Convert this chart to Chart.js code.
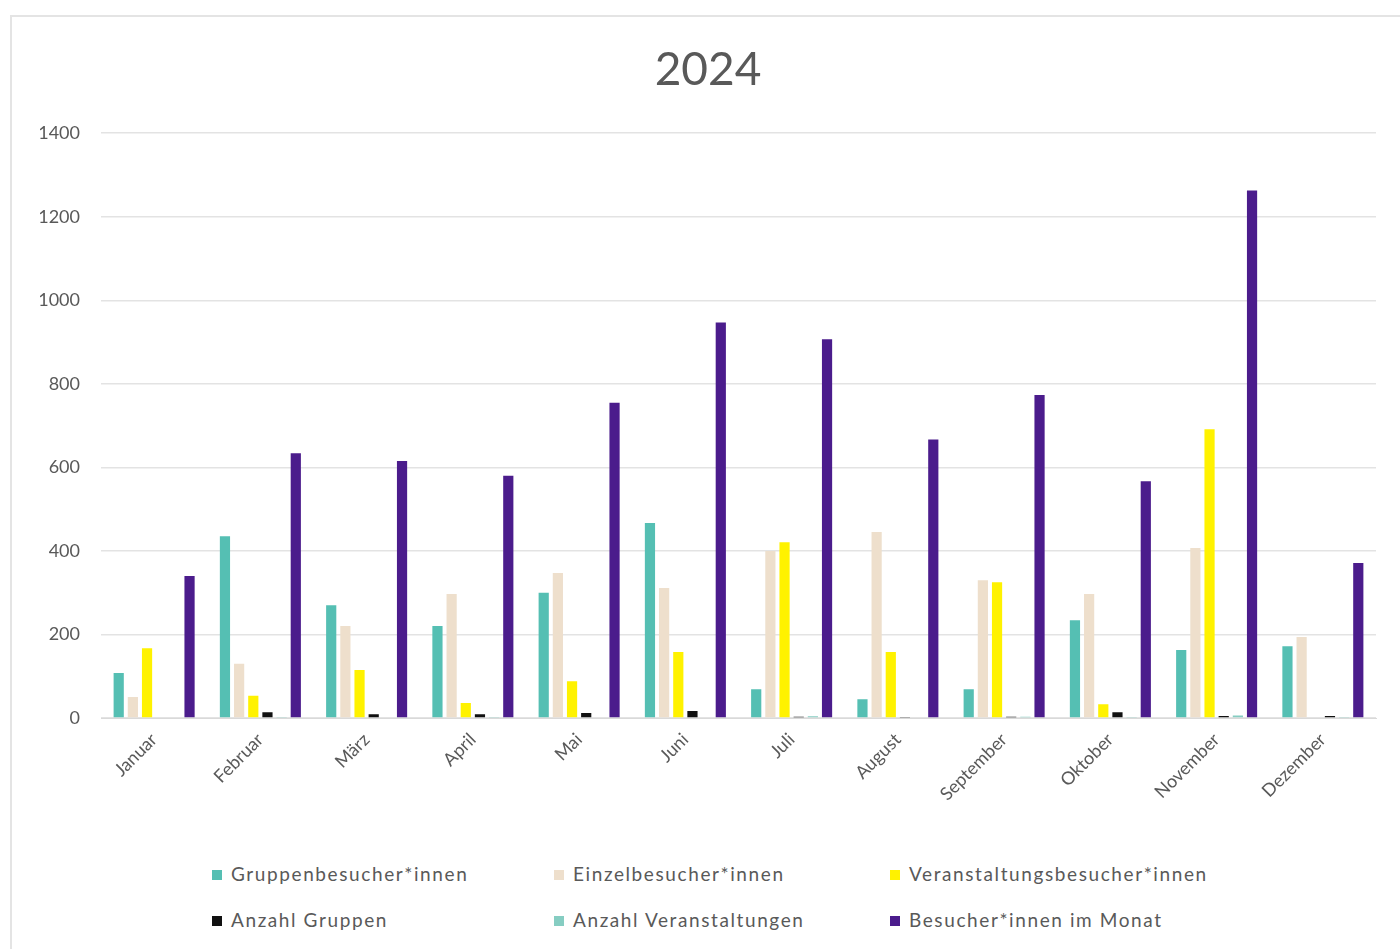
<!DOCTYPE html>
<html lang="de">
<head>
<meta charset="utf-8">
<title>2024</title>
<script src="https://cdn.jsdelivr.net/npm/chart.js@4.4.1/dist/chart.umd.min.js"></script>
<style>
    html, body {
        margin: 0;
        padding: 0;
        background: #fff;
    }
    #frame {
        position: absolute;
        left: 10px;
        top: 15px;
        width: 1400px;
        height: 940px;
        border-top: 2px solid #e4e4e4;
        border-left: 2px solid #e4e4e4;
        box-sizing: border-box;
    }
    #wrap {
        position: absolute;
        left: 0;
        top: 0;
        width: 1400px;
        height: 850px;
    }
    #legend {
        position: absolute;
        left: 212px;
        top: 862px;
        display: grid;
        grid-template-columns: 342px 336px 340px;
        row-gap: 23px;
        font-family: Lato, 'Open Sans', sans-serif;
        font-size: 19px;
        letter-spacing: 1.6px;
        color: #595959;
    }
    #legend span.box {
        display: inline-block;
        width: 10px;
        height: 10px;
        margin-right: 9px;
        vertical-align: 1px;
    }
</style>
</head>
<body>
<div id="frame"></div>
<div id="wrap"><canvas id="chart"></canvas></div>
<div id="legend"></div>
<script>
// Kategorien und Werte
const months = ['Januar', 'Februar', 'März', 'April', 'Mai', 'Juni', 'Juli', 'August', 'September', 'Oktober', 'November', 'Dezember'];
const gruppenbesucher = [108, 435, 270, 220, 300, 467, 69, 45, 69, 234, 163, 172];
const einzelbesucher = [50, 130, 220, 297, 347, 311, 400, 445, 330, 297, 407, 194];
const veranstaltungsbesucher = [167, 53, 115, 36, 88, 158, 421, 158, 325, 33, 691, 0];
const anzahlGruppen = [2, 14, 9, 9, 12, 17, 3, 1, 3, 14, 5, 5];
const anzahlVeranstaltungen = [2, 1, 2, 1, 2, 2, 4, 2, 3, 1, 6, 1];
const besucherMonat = [340, 634, 615, 580, 755, 947, 907, 667, 773, 567, 1263, 371];
const yTicks = [0, 200, 400, 600, 800, 1000, 1200, 1400];

const seriesNames = ['Gruppenbesucher*innen', 'Einzelbesucher*innen', 'Veranstaltungsbesucher*innen', 'Anzahl Gruppen', 'Anzahl Veranstaltungen', 'Besucher*innen im Monat'];
const seriesData = [gruppenbesucher, einzelbesucher, veranstaltungsbesucher, anzahlGruppen, anzahlVeranstaltungen, besucherMonat];
const seriesColors = ['#55BFB3', '#EEDFCC', '#FFF200', '#111111', '#86CDC2', '#4B1C8C'];

const fontFamily = "Lato, 'Open Sans', sans-serif";

const ctx = document.getElementById('chart');
const chart = new Chart(ctx, {
    type: 'bar',
    data: {
        labels: months,
        datasets: seriesNames.map((name, i) => ({
            label: name,
            data: seriesData[i],
            backgroundColor: seriesColors[i],
            borderWidth: 0,
            categoryPercentage: 0.8,
            barPercentage: 0.72
        }))
    },
    options: {
        responsive: true,
        maintainAspectRatio: false,
        animation: false,
        layout: {
            padding: { left: 40, right: 24, top: 0, bottom: 0 }
        },
        plugins: {
            legend: { display: false },
            tooltip: { enabled: false },
            title: {
                display: true,
                text: '2024',
                color: '#595959',
                font: { family: fontFamily, size: 46, weight: 'normal' },
                padding: { top: 43, bottom: 35 }
            }
        },
        scales: {
            x: {
                grid: { display: false },
                border: { display: true, color: '#d9d9d9' },
                ticks: {
                    color: '#595959',
                    font: { family: fontFamily, size: 18 },
                    maxRotation: 45,
                    minRotation: 45,
                    autoSkip: false
                },
                afterFit: function(scale) {
                    scale.height = 132;
                }
            },
            y: {
                min: 0,
                max: 1400,
                afterBuildTicks: function(scale) {
                    scale.ticks = yTicks.map(v => ({ value: v }));
                },
                grid: { color: '#e3e3e3', lineWidth: 1.5, drawTicks: false },
                border: { display: false },
                ticks: {
                    color: '#595959',
                    font: { family: fontFamily, size: 18 },
                    padding: 21,
                    callback: function(value) {
                        return String(value);
                    }
                },
                afterFit: function(scale) {
                    scale.width = 61;
                }
            }
        }
    }
});

// HTML-Legende in drei Spalten
const legend = document.getElementById('legend');
seriesNames.forEach((name, i) => {
    const item = document.createElement('div');
    const box = document.createElement('span');
    box.className = 'box';
    box.style.background = seriesColors[i];
    item.appendChild(box);
    item.appendChild(document.createTextNode(name));
    legend.appendChild(item);
});
</script>
</body>
</html>
